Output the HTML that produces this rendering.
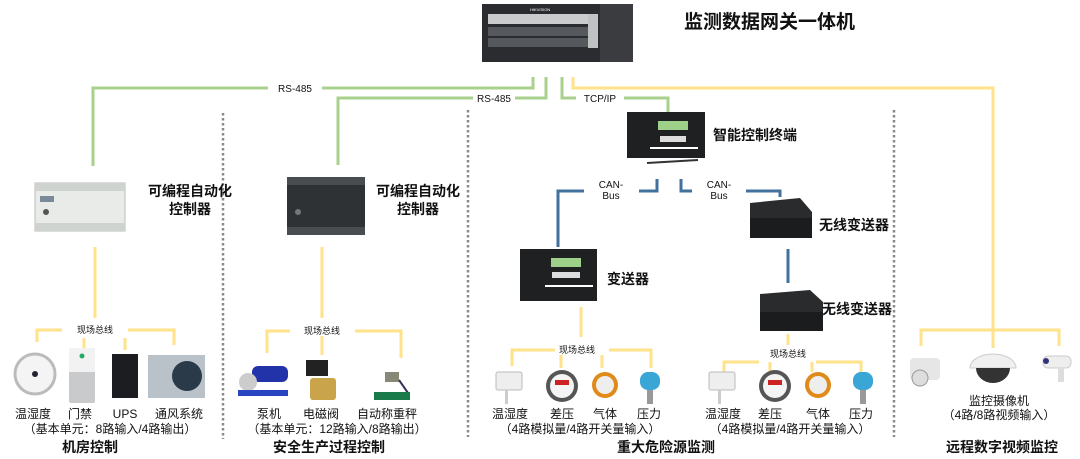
<!DOCTYPE html>
<html><head><meta charset="utf-8"><style>
html,body{margin:0;padding:0;background:#fff;}
svg{display:block;}
text{font-family:"Liberation Sans","Noto Sans CJK SC",sans-serif;fill:#111;}
.b{font-weight:bold;}
</style></head><body>
<svg width="1080" height="459" viewBox="0 0 1080 459" xmlns="http://www.w3.org/2000/svg">
<!-- dotted separators -->
<g stroke="#8a8a8a" stroke-width="2.5" stroke-dasharray="2.5,2.5" fill="none">
<line x1="223" y1="113" x2="223" y2="439"/>
<line x1="468" y1="110" x2="468" y2="437"/>
<line x1="894" y1="110" x2="894" y2="437"/>
</g>
<!-- green lines -->
<g stroke="#a9d18e" stroke-width="3" fill="none">
<polyline points="533,77 533,88 322,88"/>
<polyline points="268,88 93,88 93,166"/>
<polyline points="546,77 546,98 515,98"/>
<polyline points="473,98 338,98 338,165"/>
<polyline points="562,77 562,98 576,98"/>
<polyline points="624,98 668,98 668,112"/>
</g>
<text x="295" y="92" font-size="10" text-anchor="middle">RS-485</text>
<text x="494" y="102" font-size="10" text-anchor="middle">RS-485</text>
<text x="600" y="102" font-size="10" text-anchor="middle">TCP/IP</text>
<!-- yellow lines -->
<g stroke="#ffe28a" stroke-width="3" fill="none">
<polyline points="573,77 573,88 993,88 993,330"/>
<polyline points="921,346 921,330 1059,330 1059,346"/>
<line x1="993" y1="330" x2="993" y2="348"/>
<line x1="95" y1="247" x2="95" y2="318"/>
<polyline points="62,330 37,330 37,342"/>
<polyline points="128,330 174,330 174,345"/>
<line x1="84" y1="338" x2="84" y2="348"/>
<line x1="125" y1="338" x2="125" y2="350"/>
<line x1="322" y1="247" x2="322" y2="318"/>
<polyline points="290,331 267,331 267,353"/>
<polyline points="355,331 401,331 401,358"/>
<line x1="322" y1="336" x2="322" y2="355"/>
<line x1="581" y1="307" x2="581" y2="337"/>
<polyline points="555,350 512,350 512,366"/>
<polyline points="609,350 651,350 651,368"/>
<line x1="561" y1="355" x2="561" y2="368"/>
<line x1="602" y1="355" x2="602" y2="368"/>
<line x1="788" y1="334" x2="788" y2="345"/>
<polyline points="759,362 724,362 724,372"/>
<polyline points="816,362 861,362 861,372"/>
<line x1="770" y1="362" x2="770" y2="372"/>
<line x1="812" y1="362" x2="812" y2="372"/>
</g>
<!-- blue lines -->
<g stroke="#41719c" stroke-width="3" fill="none">
<polyline points="657,179 657,191 639,191"/>
<polyline points="584,191 558,191 558,247"/>
<polyline points="681,179 681,191 692,191"/>
<polyline points="746,191 780,191 780,197"/>
<line x1="788" y1="249" x2="788" y2="283"/>
</g>
<text x="611" y="188" font-size="10" text-anchor="middle">CAN-</text>
<text x="611" y="199" font-size="10" text-anchor="middle">Bus</text>
<text x="719" y="188" font-size="10" text-anchor="middle">CAN-</text>
<text x="719" y="199" font-size="10" text-anchor="middle">Bus</text>

<!-- gateway -->
<rect x="482" y="4" width="151" height="58" fill="#2a2c30"/>
<rect x="600" y="4" width="33" height="58" fill="#3a3c40"/>
<rect x="488" y="14" width="100" height="10" fill="#c9cbcd"/>
<rect x="488" y="27" width="100" height="9" fill="#55585c"/>
<rect x="488" y="38" width="100" height="9" fill="#55585c"/>
<rect x="588" y="14" width="10" height="34" fill="#bfc1c3"/>
<text x="530" y="11" font-size="4" fill="#fff" style="fill:#fff">HIKVISION</text>
<text x="684" y="28" font-size="19" class="b">监测数据网关一体机</text>

<!-- PLC1 -->
<rect x="35" y="183" width="90" height="48" fill="#e8ebe8" stroke="#bbb"/>
<rect x="35" y="183" width="90" height="8" fill="#cfd3cf"/>
<rect x="35" y="223" width="90" height="8" fill="#cfd3cf"/>
<rect x="40" y="196" width="14" height="6" fill="#7a8a9a"/>
<circle cx="46" cy="212" r="3" fill="#555"/>
<text x="190" y="196" font-size="14" class="b" text-anchor="middle">可编程自动化</text>
<text x="190" y="214" font-size="14" class="b" text-anchor="middle">控制器</text>
<!-- PLC2 -->
<rect x="287" y="177" width="78" height="58" fill="#2f3235"/>
<rect x="287" y="177" width="78" height="8" fill="#4a4d50"/>
<rect x="287" y="227" width="78" height="8" fill="#4a4d50"/>
<circle cx="298" cy="212" r="3" fill="#777"/>
<text x="418" y="196" font-size="14" class="b" text-anchor="middle">可编程自动化</text>
<text x="418" y="214" font-size="14" class="b" text-anchor="middle">控制器</text>

<!-- smart terminal -->
<rect x="627" y="112" width="78" height="46" fill="#1e2022"/>
<rect x="658" y="121" width="30" height="9" fill="#9fd08a"/>
<rect x="660" y="136" width="26" height="6" fill="#ddd"/>
<rect x="650" y="147" width="48" height="2" fill="#fff"/>
<line x1="647" y1="163" x2="698" y2="160" stroke="#333" stroke-width="2"/>
<text x="713" y="140" font-size="14" class="b">智能控制终端</text>

<!-- transmitter -->
<rect x="520" y="249" width="77" height="52" fill="#1e2022"/>
<rect x="551" y="258" width="30" height="9" fill="#9fd08a"/>
<rect x="552" y="272" width="28" height="6" fill="#ddd"/>
<rect x="545" y="285" width="48" height="2" fill="#fff"/>
<text x="607" y="284" font-size="14" class="b">变送器</text>

<!-- wireless 1 -->
<polygon points="750,203 800,198 812,212 812,238 750,238" fill="#2a2b2d"/>
<rect x="750" y="218" width="62" height="20" fill="#1b1c1e"/>
<text x="819" y="230" font-size="14" class="b">无线变送器</text>
<!-- wireless 2 -->
<polygon points="760,294 810,290 823,302 823,331 760,331" fill="#2a2b2d"/>
<rect x="760" y="312" width="63" height="19" fill="#1b1c1e"/>
<text x="822" y="314" font-size="14" class="b">无线变送器</text>

<!-- group1 devices -->
<circle cx="35" cy="374" r="20" fill="#f4f4f4" stroke="#bbb" stroke-width="3"/>
<circle cx="35" cy="374" r="3" fill="#223"/>
<rect x="69" y="348" width="26" height="55" rx="2" fill="#c8cacc"/>
<rect x="69" y="348" width="26" height="24" fill="#f2f2f2"/>
<circle cx="82" cy="356" r="2.5" fill="#2a6"/>
<rect x="112" y="354" width="26" height="44" fill="#1c1d20"/>
<rect x="148" y="355" width="57" height="43" fill="#b8c2c8"/>
<circle cx="187" cy="376" r="15" fill="#2b3a48"/>
<text x="95" y="333" font-size="9" text-anchor="middle">现场总线</text>
<text x="33" y="418" font-size="12" text-anchor="middle">温湿度</text>
<text x="80" y="418" font-size="12" text-anchor="middle">门禁</text>
<text x="125" y="418" font-size="12" text-anchor="middle">UPS</text>
<text x="179" y="418" font-size="12" text-anchor="middle">通风系统</text>
<text x="110" y="433" font-size="12" text-anchor="middle">（基本单元：8路输入/4路输出）</text>
<text x="90" y="452" font-size="14" class="b" text-anchor="middle">机房控制</text>

<!-- group2 devices -->
<rect x="252" y="366" width="36" height="16" rx="6" fill="#2233aa"/>
<circle cx="248" cy="382" r="9" fill="#ccc"/>
<rect x="238" y="390" width="50" height="6" fill="#2a45c0"/>
<rect x="306" y="360" width="22" height="16" fill="#222"/>
<rect x="310" y="378" width="26" height="22" rx="3" fill="#c9a44a"/>
<rect x="385" y="372" width="14" height="10" fill="#887"/>
<line x1="399" y1="380" x2="408" y2="393" stroke="#335" stroke-width="2"/>
<rect x="374" y="392" width="36" height="8" fill="#1a7a4a"/>
<text x="322" y="334" font-size="9" text-anchor="middle">现场总线</text>
<text x="269" y="418" font-size="12" text-anchor="middle">泵机</text>
<text x="321" y="418" font-size="12" text-anchor="middle">电磁阀</text>
<text x="387" y="418" font-size="12" text-anchor="middle">自动称重秤</text>
<text x="337" y="433" font-size="12" text-anchor="middle">（基本单元：12路输入/8路输出）</text>
<text x="329" y="452" font-size="14" class="b" text-anchor="middle">安全生产过程控制</text>

<!-- group3 devices -->
<g id="sens">
<rect x="496" y="372" width="26" height="18" rx="2" fill="#eee" stroke="#bbb"/>
<rect x="505" y="390" width="3" height="14" fill="#ccc"/>
<circle cx="562" cy="386" r="16" fill="#555"/><circle cx="562" cy="386" r="12" fill="#f4f4f4"/><rect x="555" y="380" width="14" height="5" fill="#c22"/>
<circle cx="605" cy="385" r="13" fill="#e08a1a"/><circle cx="605" cy="385" r="9" fill="#eee"/>
<rect x="640" y="372" width="20" height="18" rx="8" fill="#39a6d6"/><rect x="647" y="390" width="6" height="14" fill="#999"/>
</g>
<use href="#sens" transform="translate(213,0)"/>
<text x="577" y="353" font-size="9" text-anchor="middle">现场总线</text>
<text x="510" y="418" font-size="12" text-anchor="middle">温湿度</text>
<text x="562" y="418" font-size="12" text-anchor="middle">差压</text>
<text x="605" y="418" font-size="12" text-anchor="middle">气体</text>
<text x="649" y="418" font-size="12" text-anchor="middle">压力</text>
<text x="580" y="433" font-size="12" text-anchor="middle">（4路模拟量/4路开关量输入）</text>
<text x="788" y="357" font-size="9" text-anchor="middle">现场总线</text>
<text x="723" y="418" font-size="12" text-anchor="middle">温湿度</text>
<text x="770" y="418" font-size="12" text-anchor="middle">差压</text>
<text x="818" y="418" font-size="12" text-anchor="middle">气体</text>
<text x="861" y="418" font-size="12" text-anchor="middle">压力</text>
<text x="790" y="433" font-size="12" text-anchor="middle">（4路模拟量/4路开关量输入）</text>
<text x="666" y="452" font-size="14" class="b" text-anchor="middle">重大危险源监测</text>

<!-- cameras -->
<rect x="910" y="358" width="30" height="22" rx="4" fill="#e6e6e6"/>
<circle cx="920" cy="378" r="8" fill="#ddd" stroke="#999"/>
<path d="M970,368 a23,14 0 0 1 46,0 z" fill="#f0f0f0" stroke="#ccc"/>
<path d="M976,368 a17,15 0 0 0 34,0 z" fill="#333"/>
<rect x="1043" y="356" width="28" height="12" rx="5" fill="#eee" stroke="#ccc"/>
<circle cx="1046" cy="361" r="3" fill="#337"/>
<rect x="1058" y="368" width="6" height="14" fill="#ddd"/>
<text x="999" y="405" font-size="12" text-anchor="middle">监控摄像机</text>
<text x="999" y="419" font-size="12" text-anchor="middle">（4路/8路视频输入）</text>
<text x="1002" y="452" font-size="14" class="b" text-anchor="middle">远程数字视频监控</text>
</svg>
</body></html>
